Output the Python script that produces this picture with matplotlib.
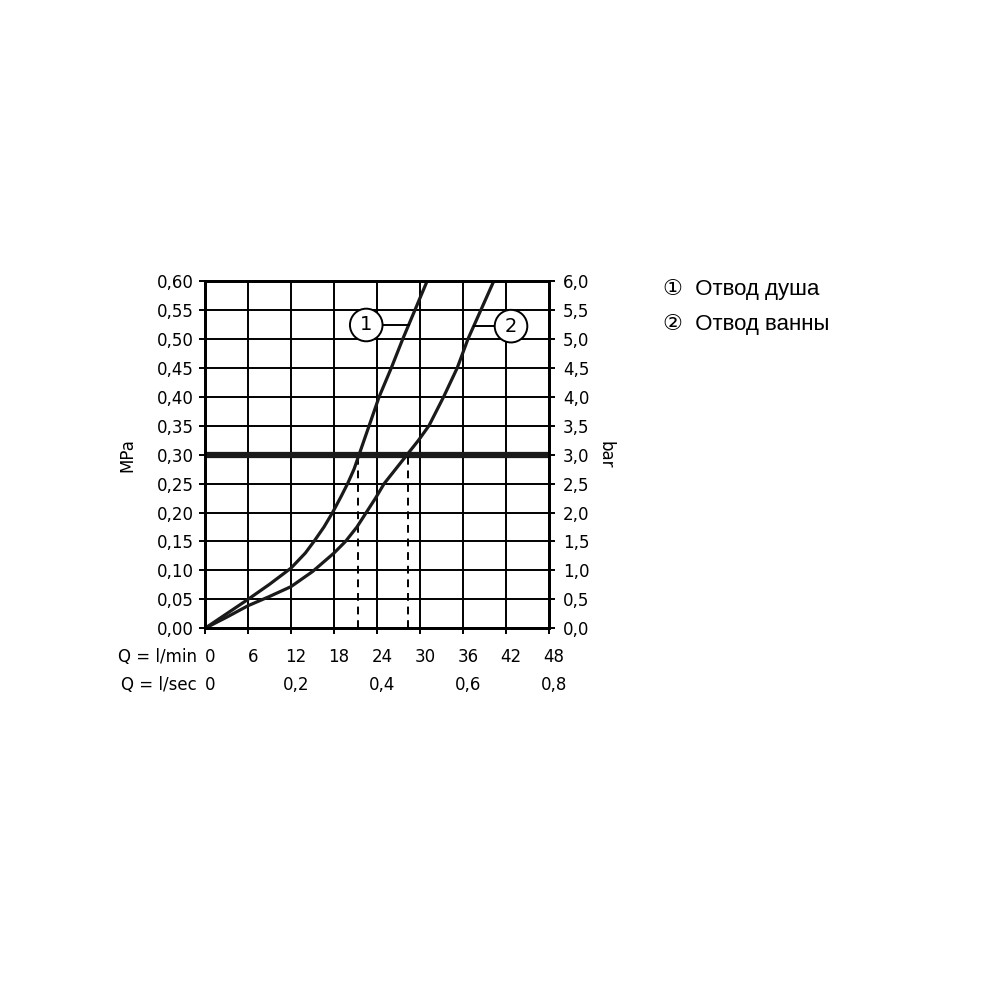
import matplotlib.pyplot as plt
import matplotlib.transforms as mtransforms
from matplotlib.ticker import FuncFormatter

# данные (Q в л/мин, p в МПа)
q_shower = [0, 3, 6, 9, 12, 14, 15.2, 16.6, 17.8, 19.0, 19.9, 20.8, 21.5,
            22.2, 22.9, 23.6, 24.3, 26.0, 27.6, 29.3, 31.0]
p_shower = [0, 0.025, 0.05, 0.076, 0.104, 0.13, 0.15, 0.175, 0.20, 0.228, 0.25,
            0.275, 0.30, 0.325, 0.35, 0.375, 0.40, 0.45, 0.50, 0.55, 0.60]
q_bath = [0, 3, 6, 9, 12, 15, 18, 19.6, 21.2, 22.5, 23.8, 25.0, 26.6, 28.2,
          29.8, 31.25, 33.3, 35.2, 36.7, 38.5, 40.3]
p_bath = [0, 0.019, 0.039, 0.055, 0.072, 0.098, 0.13, 0.15, 0.175, 0.20, 0.225,
          0.25, 0.275, 0.30, 0.325, 0.35, 0.40, 0.45, 0.50, 0.55, 0.60]

q_min_ticks = [0, 6, 12, 18, 24, 30, 36, 42, 48]
q_sec_ticks = [0, 0.2, 0.4, 0.6, 0.8]
mpa_ticks = [i * 0.05 for i in range(13)]
bar_ticks = [i * 0.5 for i in range(13)]

p_ref = 0.30
q_ref = [21.4, 28.3]

legend_items = ['\u2460  Отвод душа', '\u2461  Отвод ванны']

plt.rcParams['font.family'] = ['DejaVu Sans']

fig = plt.figure(figsize=(10, 10), dpi=100)
ax = fig.add_axes([0.205, 0.3717, 0.344, 0.3473])

ax.set_xlim(0, 48)
ax.set_ylim(0, 0.60)
ax.set_xticks(q_min_ticks)
ax.set_yticks(mpa_ticks)
ax.grid(True, color='black', linewidth=1.4)
ax.set_axisbelow(True)

comma = lambda fmt: FuncFormatter(lambda v, pos: (fmt % v).replace('.', ','))
ax.yaxis.set_major_formatter(comma('%.2f'))
ax.xaxis.set_major_formatter(comma('%d'))
ax.tick_params(axis='both', direction='out', length=4, width=1.4,
               labelsize=12, color='black')
ax.tick_params(axis='x', pad=10)
ax.tick_params(axis='y', pad=4)
for sp in ax.spines.values():
    sp.set_linewidth(2.0)

off = mtransforms.ScaledTranslation(5 / 100, 0, fig.dpi_scale_trans)
for lab in ax.get_xticklabels():
    lab.set_transform(lab.get_transform() + off)

ax2 = ax.twinx()
ax2.set_ylim(0, 6.0)
ax2.set_yticks(bar_ticks)
ax2.yaxis.set_major_formatter(comma('%.1f'))
ax2.tick_params(axis='y', direction='out', length=4, width=1.4,
                labelsize=12, pad=6)
for sp in ax2.spines.values():
    sp.set_linewidth(2.0)

ax.set_ylabel('MPa', fontsize=12)
ax2.set_ylabel('bar', fontsize=12, rotation=270, va='center')
ax2.yaxis.set_label_coords(1.165, 0.5)
ax.yaxis.set_label_coords(-0.20, 0.5)

# кривые
ax.plot(q_shower, p_shower, color='#1a1a1a', linewidth=2.3, zorder=4,
        solid_capstyle='butt', solid_joinstyle='round')
ax.plot(q_bath, p_bath, color='#1a1a1a', linewidth=2.3, zorder=4,
        solid_capstyle='butt', solid_joinstyle='round')

# линия 0,30 МПа и пунктир
ax.axhline(p_ref, color='#1a1a1a', linewidth=4.5, zorder=3)
for q in q_ref:
    ax.plot([q, q], [0, p_ref], color='black', linewidth=1.4,
            linestyle=(0, (4, 3)), zorder=3)

# выноски с номерами
ax.plot([24.6, 28.4], [0.524, 0.524], color='black', linewidth=1.4, zorder=4)
ax.plot([37.6, 40.6], [0.522, 0.522], color='black', linewidth=1.4, zorder=4)
circ = dict(boxstyle='circle,pad=0.35', fc='white', ec='black', lw=1.4)
ax.text(22.5, 0.524, '1', ha='center', va='center', fontsize=14,
        bbox=circ, zorder=5)
ax.text(42.7, 0.522, '2', ha='center', va='center', fontsize=14,
        bbox=circ, zorder=5)

# вторая шкала расхода
tr = ax.get_xaxis_transform()
for v in q_sec_ticks:
    ax.text(v * 60, -0.164, ('%.1f' % v).replace('.', ',') if v else '0',
            transform=tr + off, ha='center', va='center', fontsize=12)
ax.text(-1.1, -0.083, 'Q = l/min', transform=tr, ha='right', va='center',
        fontsize=12)
ax.text(-1.1, -0.164, 'Q = l/sec', transform=tr, ha='right', va='center',
        fontsize=12)

for i, s in enumerate(legend_items):
    fig.text(0.663, 0.710 - i * 0.034, s, fontsize=16, va='center',
             family=['Liberation Sans', 'DejaVu Sans'])

fig.savefig('out.png', dpi=100, facecolor='white')
